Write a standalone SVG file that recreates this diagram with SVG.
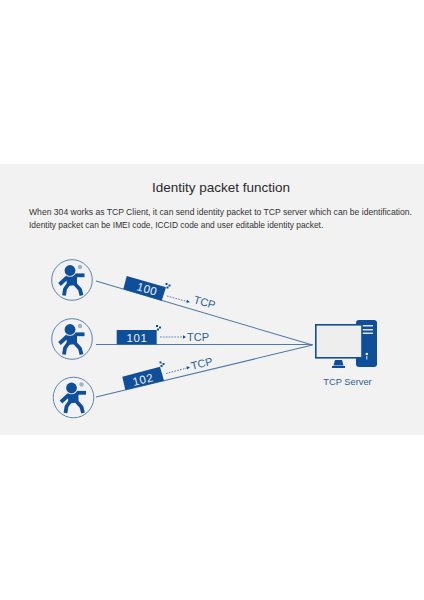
<svg xmlns="http://www.w3.org/2000/svg" width="424" height="600" viewBox="0 0 424 600">
<style>
.f{font-family:"Liberation Sans",Arial,sans-serif}
.conn{stroke:#4f78a8;stroke-width:1.1;fill:none}
.d{stroke:#2d5f9a;stroke-width:.8;stroke-dasharray:1.6 1.3;fill:none}
.pk{fill:#0f4f9a}
.pt{fill:#f0f0f0;font-size:11.5px;letter-spacing:.6px;text-anchor:middle;font-family:"Liberation Sans",Arial,sans-serif}
.tc{fill:#2f5f98;font-size:11px;font-family:"Liberation Sans",Arial,sans-serif}
.b{fill:#0f4f9a}
.limb{stroke:#0f4f9a;fill:none;stroke-width:3.800;stroke-linejoin:round}
</style>
<defs>
<g id="person">
<circle r="20.3" fill="#f2f2f2" stroke="#5f83ad" stroke-width="1"/>
<path class="b" d="M-6-5L5-6L5 5L-5 6Z"/>
<path class="limb" d="M3-4.700H12.500"/>
<path class="limb" d="M-5-2.500L-12.500 4.500"/>
<path class="limb" d="M-3.500 4L-7 9L-8 15.500"/>
<path class="limb" d="M3 4L8 9.500L9.500 15.500"/>
<circle cx="-2" cy="-9.500" r="6.300" fill="#f2f2f2"/>
<circle class="b" cx="-2" cy="-9.500" r="5.400"/>
<circle cx="8" cy="-13" r="2.200" fill="#9fb4cc"/>
</g>
<g id="dots">
<rect x="0" y="0" width="2" height="2" class="b"/><rect x="3" y="1.500" width="2" height="2" class="b"/><rect x="1" y="3.500" width="2" height="2" class="b"/>
</g>
</defs>
<rect width="424" height="600" fill="#ffffff"/>
<rect y="164" width="424" height="271" fill="#f2f2f2"/>
<text class="f" x="221" y="192" font-size="13.500" fill="#2b2b2b" text-anchor="middle">Identity packet function</text>
<text class="f" x="29" y="215" font-size="8.600" fill="#333333">When 304 works as TCP Client, it can send identity packet to TCP server which can be identification.</text>
<text class="f" x="29" y="228" font-size="8.400" fill="#333333">Identity packet can be IMEI code, ICCID code and user editable identity packet.</text>
<g id="connectors">
<path class="conn" d="M96 281L312.500 345"/>
<path class="conn" d="M96 344.500H312.500"/>
<path class="conn" d="M96 397L312.500 345"/>
<path class="d" d="M167 296L187 301.500"/>
<path d="M187 299.800L190 302.300L186.300 302.800Z" class="b"/>
<path class="d" d="M160 337H183"/>
<path d="M183 335.300L186 337L183 338.700Z" class="b"/>
<path class="d" d="M166 373.500L187 368"/>
<path d="M186.500 366.300L190 367.300L187.300 369.600Z" class="b"/>
</g>
<g id="client-1"><use href="#person" x="72" y="280"/></g>
<g id="client-2"><use href="#person" x="72" y="339"/></g>
<g id="client-3"><use href="#person" x="73.500" y="397.500"/></g>
<g id="packet-100">
<path class="pk" d="M126.700 276L166 287.300L161.700 300.700L123.300 289.300Z"/>
<text class="pt" transform="translate(146 293) rotate(16)">100</text>
<use href="#dots" x="165.500" y="283"/>
<text class="tc" transform="translate(193 303) rotate(16)">TCP</text>
</g>
<g id="packet-101">
<rect class="pk" x="116.700" y="330" width="40" height="14.300"/>
<text class="pt" x="137" y="341.500">101</text>
<use href="#dots" x="156" y="325"/>
<text class="tc" x="187" y="341">TCP</text>
</g>
<g id="packet-102">
<path class="pk" d="M122.300 376.700L160 366.700L164 380.700L125.300 390Z"/>
<text class="pt" transform="translate(144 383.500) rotate(-14)">102</text>
<use href="#dots" x="159.500" y="361.500"/>
<text class="tc" transform="translate(192 370) rotate(-14)">TCP</text>
</g>
<g id="server">
<rect x="356" y="320" width="21" height="47" rx="3" class="b"/>
<rect x="362" y="325" width="11" height="1.500" fill="#dfe6ef"/>
<rect x="362" y="329" width="11" height="1.500" fill="#dfe6ef"/>
<rect x="362" y="332.500" width="11" height="1.500" fill="#dfe6ef"/>
<circle cx="366.800" cy="354" r="1.300" fill="#e8eef5"/>
<rect x="366.300" y="356" width="1" height="3.500" fill="#e8eef5"/>
<rect x="315.800" y="324.800" width="46.200" height="33" fill="#eeeeee" stroke="#0f4f9a" stroke-width="1.600"/>
<path class="b" d="M335 360H342L343.500 365.500H333.500Z"/>
<rect x="332" y="366" width="13" height="2" class="b"/>
<text class="f" x="347.500" y="385" font-size="9.300" fill="#2f5f98" text-anchor="middle">TCP Server</text>
</g>
</svg>
